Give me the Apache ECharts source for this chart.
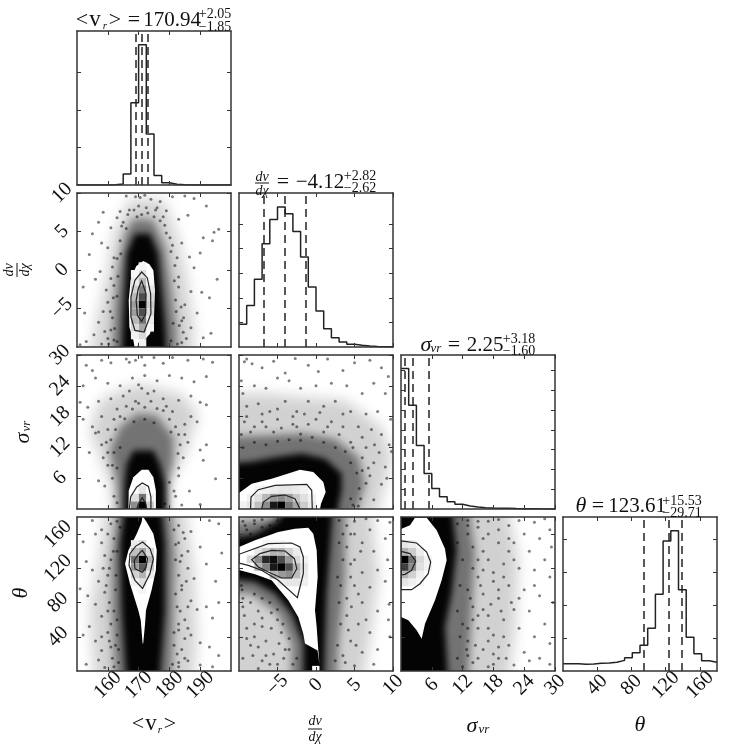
<!DOCTYPE html>
<html>
<head>
<meta charset="utf-8">
<style>
  html, body { margin: 0; padding: 0; background: #fff; }
  #chart { width: 748px; height: 748px; }
</style>
<script src="https://cdn.jsdelivr.net/npm/echarts@6/dist/echarts.min.js"></script>
</head>
<body>
<div id="chart"></div>
<script>
// axis ranges and ticks
const vrRange = [150, 200], vrTicks = [160, 170, 180, 190]
const dvRange = [-10, 10], dvTicks = [-5, 0, 5, 10]
const sigRange = [0, 30], sigTicks = [6, 12, 18, 24, 30]
const thRange = [0, 180], thTicks = [40, 80, 120, 160]

// 1d histograms, counts per bin
const vrHist = [0, 0, 0, 0, 20, 130, 1470, 10940, 18680, 6800, 1250, 310, 90, 20, 0, 0, 0, 0, 0, 0]
const dvHist = [920, 1690, 2750, 4200, 5180, 5690, 5420, 4700, 3660, 2440, 1460, 745, 380, 200, 110, 70, 40, 25, 15, 10]
const sigHist = [17770, 13130, 8040, 4500, 2610, 1560, 930, 590, 380, 250, 170, 125, 85, 85, 50, 40, 30, 20, 15, 10]
const thHist = [445, 445, 405, 425, 465, 485, 525, 645, 810, 1110, 1555, 2585, 4650, 7880, 8500, 4930, 2040, 1050, 625, 525]
const vrHistMax = 20500, dvHistMax = 6260, sigHistMax = 19490, thHistMax = 9333
const vrHistTicks = [5000, 10000, 15000]
const dvHistTicks = [1000, 2000, 3000, 4000, 5000]
const sigHistTicks = [2500, 5000, 7500, 10000, 12500, 15000, 17500]
const thHistTicks = [2000, 4000, 6000, 8000]

// 16/50/84 percentiles
const vrQuant = [169.09, 170.94, 172.99]
const dvQuant = [-6.74, -4.12, -1.3]
const sigQuant = [0.65, 2.25, 5.43]
const thQuant = [93.9, 123.61, 139.14]

// vr - dv panel
const vrDvLight = [[167.2,9.26],[178,9.05],[182.4,4.72],[185.6,-0.9],[187.8,-6.97],[187.8,-10],[152.6,-10],[156.4,-6.5],[159.6,-0.9],[161.8,4.72]]
const vrDvMid = [[168.3,6.67],[174.8,6.45],[178.6,2.99],[180.7,-2.64],[182.4,-8.27],[182.4,-10],[160.7,-10],[162.3,-3.94],[163.4,0.39],[165.6,4.72]]
const vrDvDark = [[168.8,4.72],[173.7,4.72],[176.4,2.12],[177.5,-2.64],[178.6,-6.97],[179.7,-10],[164,-10],[165,-6.1],[165.6,-1.8],[166.1,2.12]]
const vrDvPoints = [[158.5,7.5],[166,9.6],[169,9.5],[170.5,9.4],[172,9.7],[174,9.2],[177,8.9],[181,9.5],[185,9.6],[188,9.3],[157,6.2],[161,5.5],[163,6.8],[179,7.7],[183,6.6],[186,7.1],[192,8.3],[194.5,4.9],[191,4.2],[194,3.8],[196,5.3],[190,2.2],[155,4.7],[158,3.5],[160,2.9],[162,1.6],[154,2],[157.5,-0.2],[152,-2.2],[156,-1.2],[159.5,-2.6],[161,-1.1],[184,3.5],[186.5,1.7],[188,0.3],[183,-0.9],[187,-2.8],[190.5,-2.9],[193,-3.6],[195.5,-1.2],[185,-4.5],[189,-5.6],[184,-6.6],[187,-7.5],[191,-8.8],[193.5,-8.2],[180.5,-9.2],[184,-9.4],[153,-9.3],[155.5,-8.4],[157,-6.8],[158.5,-5.4],[160,-4.2],[161,-7.8],[151,-9.7],[152.5,-5.6],[162,-9.1],[160.3,-9.6],[164,7.6],[176,8.1],[178.5,5.8],[167,7.8],[173,7.4],[170,8.3],[175,6.9],[164.5,5.7],[181,3.2],[161.5,0.4],[182,-3.9],[163,-3.4],[184.5,-8.1],[182.5,1.6]]
const vrDvFringe = [[160,-8.9],[161.5,-6.2],[162,-2],[163,1.5],[164,3.8],[165,6.2],[166.5,7.2],[168.5,7.8],[171,7.2],[172.5,8.1],[175.5,7.8],[177,6.4],[179,4.8],[180.5,2.4],[181.8,0.6],[183,-2.2],[183.8,-4.8],[184.6,-6.2],[185.5,-8.9],[182.6,-9.6],[183.2,-7.2],[159,-8],[158,-9.6],[160.8,-5.4],[161.8,-3.6],[163.3,-0.8],[164.2,2.1],[181.6,-1.4],[180.2,4.2],[178,6.9],[169.5,6.9],[166,5.4],[181.2,-6.9],[182.2,-5.4],[162.2,-7.6],[163,-9.3]]
const vrDvLevel0 = [[171.5,1.17],[173.5,0.74],[174.8,-0.04],[175.3,-2.64],[175,-6.1],[173.7,-8.27],[171.8,-9.13],[171.3,-10],[170.7,-10],[170.1,-9.35],[169.6,-10],[168.7,-10],[168.3,-9.13],[167,-7.4],[166.8,-3.94],[167.4,-1.34],[169.2,0.48]]
const vrDvLevel1 = [[171,-0.26],[172.8,-1],[173.9,-3.07],[174,-5.67],[171.8,-8.05],[168.8,-7.84],[167.5,-6.1],[167.5,-3.5],[168.8,-1.34]]
const vrDvLevel2 = [[171,-1.43],[172.4,-3.07],[172.3,-5.67],[171,-6.67],[169.6,-5.89],[169.2,-3.94],[169.9,-2.42]]
const vrDvCells = [
  [170,0,0.04],[170,-1,0.12],[170,-2,0.28],[170,-3,0.5],[170,-4,0.7],[170,-5,1],[170,-6,0.7],[170,-7,0.55],[170,-8,0.35],[170,-9,0.15],[170,-10,0.05],
  [167.5,-1,0.03],[167.5,-2,0.08],[167.5,-3,0.18],[167.5,-4,0.28],[167.5,-5,0.38],[167.5,-6,0.38],[167.5,-7,0.28],[167.5,-8,0.15],[167.5,-9,0.05],
  [172.5,-2,0.03],[172.5,-3,0.1],[172.5,-4,0.15],[172.5,-5,0.2],[172.5,-6,0.15],[172.5,-7,0.08],[172.5,-8,0.04]
]

// vr - sigma panel
const vrSigLight = [[162.9,0],[160.7,4.9],[154.2,15.3],[157.5,21.2],[169.4,24.4],[183.4,22.5],[189.4,18.6],[185.6,11.4],[180.2,4.9],[179.7,0]]
const vrSigMid = [[164,0],[162.9,4.9],[160.7,11.4],[164,16],[169.4,18.6],[175.9,18.2],[181.3,14],[181.3,9.5],[179.7,4.9],[179.1,0]]
const vrSigDark = [[165,0],[165.4,4.9],[166.1,8.8],[168.3,11.4],[174.8,11.4],[176.9,8.8],[178.6,4.9],[179.1,0]]
const vrSigPoints = [[152,24],[153,28],[155,27],[158,29],[161,28.5],[166,29.2],[167,28.6],[169,29],[171,29.6],[172,28],[175,29.5],[178,28.4],[181,29.5],[186,29],[191,29.2],[194,28.6],[156,25.5],[160,24.5],[164,24],[168,25.5],[170,24.2],[172,26],[176,25],[180,26],[184,25.5],[188,24.8],[192,25.8],[151,20.8],[153.5,19.8],[157,21],[161,21.5],[165,22],[169,21],[173,22.5],[178,21.5],[183,21.2],[187,22],[190,20.8],[192,20.3],[152,17.5],[155,16],[156,14.8],[158,18],[160,15.5],[162,17.5],[185,16.5],[187,18],[189,17],[183,14.5],[186,13],[190,11.5],[192,12.5],[154,11],[158,12.5],[160,11],[161.5,8.5],[164,12],[157,5.5],[159,4.5],[162,2.5],[163,1.2],[183,8],[186.5,3.5],[182,2.5],[184,0.8],[178.5,1],[180,5.2],[190,0.9],[195,5.9],[191,9.5]]
const vrSigFringe = [[160,8.5],[158.5,10],[161,13.5],[162.5,15.5],[164,18],[166,20],[168,19.5],[170,20.6],[172,19.8],[174,21],[176,19.6],[178,19.2],[180,17.5],[182,16],[183.5,12.5],[184.5,10],[183,6.5],[181.5,3.5],[163,8],[161.5,6],[159.5,13],[157,15],[163,19.5],[167,23],[171,23.5],[175,23],[179,20],[181,19],[185,14.5],[182.8,10.8],[162,11],[165.5,17.6],[175,16.8],[172,17.5],[168.5,17],[180.5,15]]
const vrSigLevel0 = [[166.7,0],[166.8,3.6],[168.3,6.2],[171,7.66],[173.2,7.66],[174.8,6.2],[175.6,3.6],[175.6,0]]
const vrSigLevel1 = [[167,0],[167.4,2.34],[169.4,4.3],[171.2,5.06],[173.2,4.4],[174,2.34],[174,0]]
const vrSigLevel2 = [[169.4,0],[169.9,0.9],[171.2,2.2],[172.4,0.9],[172.6,0]]
const vrSigCells = [[170,0,1],[170,1.5,0.55],[170,3,0.1],[167.5,0,0.45],[167.5,1.5,0.12],[172.5,0,0.2],[172.5,1.5,0.06]]

// vr - theta panel
const vrThLight = [[159.6,180],[183.4,180],[187.8,121.6],[188.9,39.8],[186.7,0],[156.4,0],[154.2,70.9],[157.5,137]]
const vrThMid = [[164,180],[179.7,180],[181.8,129.4],[181.3,51.4],[180.2,0],[162.9,0],[161.3,70.9],[161.3,129.4]]
const vrThDark = [[166.7,180],[176.4,180],[178.6,148.8],[178.6,70.9],[176.1,0],[166.7,0],[164.5,70.9],[164,148.8]]
const vrThPoints = [[152,151],[155,176],[156,160],[158,150],[159,135],[161,172],[153,128],[155,118],[157,105],[160,112],[151,96],[153.5,88],[156,78],[159,92],[158,64],[154,52],[152,42],[156,35],[158,24],[160,45],[157,13],[153,8],[159,4],[161,28],[160,70],[161,130],[162,155],[162.5,95],[183,170],[185,155],[187,163],[193,176],[196,172],[190,145],[184,135],[186,120],[188,108],[192,125],[195,105],[197,138],[184,95],[187,82],[189,72],[192,75],[194,62],[196,80],[185,60],[183,48],[187,42],[190,33],[193,28],[196,18],[184,25],[186,12],[190,7],[194,5],[183,10],[182,148],[182.5,75],[163,60],[162.5,30],[163,175],[163.5,10],[183,112],[185,38],[181.5,30]]
const vrThFringe = [[160,160],[161.8,140],[160.5,120],[159.5,100],[160.5,80],[161,55],[160.5,35],[161.5,15],[162,5],[163,140],[162.7,112],[162,70],[163,42],[158.5,120],[158,40],[164,168],[183,150],[183.5,128],[184,100],[183.5,70],[183,55],[182.5,20],[183,5],[181.5,165],[182,130],[182,90],[181.5,45],[185.5,105],[186,75],[185,15],[184.5,162],[186,140],[186,50],[158,165],[181,8],[163.5,25]]
const vrThLevel0 = [[171.5,180],[172.6,174.2],[174.8,160.5],[175.9,141],[175.6,117.7],[174.2,94.3],[172.4,70.9],[172.1,55.3],[171.5,32],[171.3,32],[170.7,59.2],[169.9,70.9],[167.2,102],[165.6,125.5],[166.7,141],[169.4,160.5],[171,174.2],[171.2,180]]
const vrThLevel1 = [[171.3,150.8],[173.7,143],[174.8,131.3],[173.7,113.8],[171.3,96.6],[168.8,106],[166.9,123.5],[167.2,137.2],[169,145.7]]
const vrThLevel2 = [[171.2,141],[172.9,131.3],[172.4,120.8],[171.2,115.3],[168.8,119.6],[168.6,129.4],[169.9,136.4]]
const vrThCells = [
  [170,126,1],[170,117,0.65],[170,135,0.35],[170,144,0.12],[170,108,0.3],[170,99,0.12],[170,90,0.04],
  [167.5,126,0.55],[167.5,117,0.4],[167.5,135,0.25],[167.5,108,0.18],[167.5,144,0.08],[167.5,99,0.06],
  [172.5,126,0.3],[172.5,117,0.2],[172.5,135,0.15],[172.5,108,0.08]
]

// dv - sigma panel
const dvSigLight = [[-10,22.5],[-6.2,22.5],[-1.86,21.8],[3.77,21.2],[8.53,16],[9.83,10.1],[8.96,4.94],[6.8,0],[-10,0]]
const dvSigMid = [[-10,14],[-6.2,14.35],[-1.86,14.7],[2.47,13.7],[5.5,10.1],[6.36,4.94],[3.77,0],[-10,0]]
const dvSigDark = [[-10,0],[-10,8.5],[-8.35,9.2],[-5.3,10.1],[-1.86,10.8],[1.2,9.8],[3.33,6.9],[3.33,3.64],[1.8,0]]
const dvSigPoints = [[-9.3,28.7],[-9,29.2],[-8.3,28.3],[-7,27.5],[-5.5,28.8],[-4,26.5],[-2.7,29.3],[-1,28],[0.3,26.8],[1.5,29.2],[3.5,27],[5,28.5],[7,29],[8.5,27.5],[9.4,25.8],[-9.7,25],[-9.5,22.5],[-8,24],[-6.5,23.5],[-3.5,25],[-5,25.5],[-2,23.5],[0,24],[2,24.5],[4,24],[6,22.5],[7.5,24.5],[9,22.5],[-9,20],[-7.5,20.5],[-6,19],[-4,21],[-2.5,19],[-1,21],[1,20],[2.5,21],[4.5,19],[6.5,18.5],[8,19],[9.7,17.5],[-9.3,17],[-7,17],[-5,17.5],[-3,16.5],[0,17.5],[2,17],[3.5,16],[5.5,16],[7.2,15.5],[8.5,14.5],[9.5,12.5],[9.8,11.2],[8.2,11],[7.5,9],[9,8.2],[6.5,12],[7,6.5],[8.5,4.8],[9.2,6],[5.8,2],[7.5,1.8],[6,7.5],[4.8,0.8],[-5.5,15],[-2,14.6],[1,15],[-8.5,15],[4.5,13]]
const dvSigFringe = [[-9.5,12],[-8,13],[-6.5,12.5],[-5,13.2],[-3.5,13.5],[-2,13.4],[-0.5,14],[1,13],[2.5,12],[3.8,11.2],[4.5,9],[5.3,7],[5.6,4],[4.5,2],[-9,18],[-8,16],[-6.5,16],[-4.5,15.8],[-2.5,16],[-1,16.5],[1.5,16],[3,14.5],[4.8,12],[6,10],[6.8,8],[6.5,5],[5.5,0.6],[-9.7,14.5],[-7,18.5],[-5,19.5],[-1.5,18.5],[3.5,18.5],[6,14],[7.6,12.5],[-3,18],[0.5,18.8]]
const dvSigLevel0 = [[-10,3.12],[-8.35,4.94],[-5.76,5.9],[-3.6,6.9],[-2.08,7.66],[-0.35,7.2],[0.95,5.26],[1.26,3.3],[0.65,1.04],[0.52,0],[-10,0]]
const dvSigLevel1 = [[-8.5,0],[-8.44,2.34],[-7.5,3.76],[-5.3,4.6],[-1.2,4.8],[-0.56,3.64],[-0.48,0]]
const dvSigLevel2 = [[-7.06,0],[-6.84,1.36],[-5.76,2.47],[-4.03,2.73],[-2.73,2],[-2.08,0]]
const dvSigCells = [
  [-10,0,0.05],[-9,0,0.1],[-8,0,0.25],[-7,0,0.45],[-6,0,0.9],[-5,0,1],[-4,0,0.55],[-3,0,0.35],[-2,0,0.2],[-1,0,0.08],
  [-9,1.5,0.05],[-8,1.5,0.12],[-7,1.5,0.28],[-6,1.5,0.4],[-5,1.5,0.45],[-4,1.5,0.38],[-3,1.5,0.22],[-2,1.5,0.12],[-1,1.5,0.05],
  [-8,3,0.04],[-7,3,0.06],[-6,3,0.08],[-5,3,0.1],[-4,3,0.1],[-3,3,0.08],[-2,3,0.05]
]

// dv - theta panel
const dvThLight = [[-10,180],[6.8,180],[8.1,110],[7.23,51.4],[5.5,0],[-7.06,0],[-10,24]]
const dvThMid = [[-10,168.3],[-6.2,178],[3.77,180],[3.77,110],[2.9,32],[2.47,0],[-3.16,0],[-3.16,32],[-4.9,67],[-8.35,90.4],[-10,94.3]]
const dvThDark = [[-10,148.8],[-7.92,160.5],[-4.9,176],[-1.86,180],[2.47,180],[1.82,141],[1.39,90.4],[1.17,32],[0.95,0],[-1.65,0],[-1.65,32],[-3.16,67],[-5.32,90.4],[-7.92,104],[-10,111.8]]
const dvThPoints = [[-9.5,175],[-8,172],[-7,177],[-6,170],[-9,165],[-8.5,160],[-7,168],[-5,176],[3,176],[4,170],[5,175],[6.5,178],[8,176],[9.6,174],[3.5,160],[5,160],[7,165],[9,155],[4,145],[6,150],[7.5,140],[9.3,130],[4.5,125],[6,115],[8,118],[5,100],[7,98],[9,105],[4,85],[6,80],[8,70],[9.5,78],[4,65],[5.5,55],[7,45],[9.4,60],[9.6,40],[4.5,35],[6,22],[8,25],[3.5,18],[5,6],[7.5,8],[-9.5,85],[-8,90],[-9.3,65],[-7.5,70],[-6,80],[-9,50],[-7,52],[-5,60],[-4.5,45],[-8.5,30],[-6.5,35],[-4,25],[-9.5,15],[-7,12],[-5.5,20],[-3,8],[-3.5,38],[-9.7,100],[-5,72],[-8,40],[-6,8],[2.8,110]]
const dvThFringe = [[-9.5,75],[-8.5,80],[-7,62],[-8,55],[-9,38],[-7.5,28],[-5.8,50],[-6.5,18],[-8.2,18],[-4.8,32],[-4.2,15],[-3.5,25],[-2.5,15],[-5,8],[-7.5,3],[-9.6,95],[-7,85],[-5.8,68],[-4.3,55],[3,150],[3.5,130],[3.2,100],[3,80],[3.2,55],[2.8,30],[2.5,12],[4.5,160],[5,130],[4.5,110],[4.6,75],[4.2,48],[3.8,10],[5.8,140],[5.5,90],[5.2,30],[6.5,60],[-8,176],[-3,178],[-9.2,170]]
const dvThLevel0 = [[-10,145],[-7.92,152.7],[-4.9,162.5],[-2.73,166.4],[-1,167.5],[-0.35,160.5],[0.09,141],[0.22,110],[-0.13,71],[0.09,51.4],[0.3,24.2],[0.45,8],[0.2,24],[-1.43,32],[-1.65,43.6],[-2.3,63],[-3.6,82.6],[-5.76,106],[-7.92,113],[-10,118]]
const dvThLevel1 = [[-10,136.4],[-6.2,148.8],[-3.16,149.6],[-2.08,145],[-1.65,133.3],[-1.65,113.8],[-2.42,85.7],[-4.9,106],[-7.06,117.7],[-8.8,123.5],[-10,126.2]]
const dvThLevel2 = [[-8.35,130.1],[-7.27,137.2],[-5.76,141],[-4.03,140.3],[-2.8,131.3],[-2.5,119.6],[-3.16,108.7],[-4.46,108.7],[-6.2,115.7],[-7.49,121.6]]
const dvThCells = [
  [-9,126,0.15],[-8,126,0.45],[-7,126,0.85],[-6,126,0.95],[-5,126,0.7],[-4,126,0.4],[-3,126,0.15],[-2,126,0.05],
  [-8,117,0.3],[-7,117,0.5],[-6,117,0.9],[-5,117,1],[-4,117,0.7],[-3,117,0.3],[-2,117,0.1],
  [-6,108,0.3],[-5,108,0.4],[-4,108,0.45],[-3,108,0.25],[-2,108,0.08],
  [-8,135,0.1],[-7,135,0.2],[-6,135,0.3],[-5,135,0.3],[-4,135,0.18],[-3,135,0.08],
  [-5,99,0.08],[-4,99,0.1],[-3,99,0.1],[-2,99,0.06],
  [-7,144,0.04],[-6,144,0.04],[-5,144,0.04]
]
const dvThHole = [[-0.5,0],[0.45,0],[0.45,6],[-0.5,6]]

// sigma - theta panel
const sigThLight = [[0,180],[19.6,180],[22.9,129.4],[22.2,51.4],[20.3,0],[0,0]]
const sigThMid = [[0,180],[12.47,180],[14.4,137],[13.77,71],[12.8,0],[0,0]]
const sigThDark = [[0,180],[9.2,180],[10.84,141],[9.87,90.4],[8.57,51.4],[9.55,0],[0,0]]
const sigThPoints = [[11,172],[13,176],[15,168],[17,175],[19,177],[21,170],[23,176],[26,174],[28,178],[29,165],[24,160],[27,155],[22,150],[25,140],[28,130],[29.3,145],[19,150],[16,155],[14,145],[17,130],[20,125],[23,120],[26,118],[29,110],[15,110],[18,105],[21,100],[24,95],[27,88],[29.6,80],[16,90],[19,85],[22,72],[25,70],[28,55],[14,75],[17,65],[20,60],[23,50],[26,40],[29,32],[15,50],[18,42],[21,30],[24,22],[27,15],[29,8],[13,35],[16,25],[19,15],[22,7],[14,10],[17,5],[12,55],[13,95],[15,130],[18,20],[20,40],[25,12],[23,85],[26,100],[21,140],[16,72],[13,18]]
const sigThFringe = [[11,150],[12,130],[11.5,100],[11,70],[11.5,40],[11,15],[13,160],[14,120],[13.5,85],[13,50],[12.8,25],[15,175],[16,140],[15.5,100],[15,65],[14.5,30],[17,160],[18,115],[17.5,78],[17,35],[19,165],[20,110],[19.5,70],[19,28],[21,155],[22,130],[21.5,80],[20.5,15],[12,5],[15,15],[18,8],[13,170],[17,50],[19,95],[16,118],[14,60]]
const sigThLevel0 = [[0,166],[1.75,170.3],[2.73,179.2],[5,179.2],[6.95,164.4],[8.57,143],[8.9,129.4],[7.92,106],[6.62,82.6],[4.68,55.3],[4.03,37.8],[3.05,47.5],[1.43,59.2],[0,63]]
const sigThLevel1 = [[0,152],[3.05,149.6],[5,139],[5.78,127.4],[5.3,113.8],[3.7,102],[2.08,95],[0,95]]
const sigThLevel2 = [[0,139.9],[1.75,137.2],[2.86,128.6],[2.08,117.7],[0.78,113],[0,112.2]]
const sigThCells = [
  [0,126,1],[0,117,0.75],[0,135,0.3],[0,108,0.3],[0,144,0.1],[0,99,0.1],
  [1.5,126,0.55],[1.5,117,0.45],[1.5,135,0.2],[1.5,108,0.18],[1.5,144,0.07],[1.5,99,0.06],
  [3,126,0.15],[3,117,0.12],[3,135,0.07],[3,108,0.06],[3,99,0.03],
  [4.5,126,0.05],[4.5,117,0.05]
]

const serif = '"Liberation Serif", "DejaVu Serif", serif'
const ink = '#222'
const colLeft = [77, 239, 401, 563]
const rowTop = [31, 193, 355, 517]
const side = 154
const OFFSCREEN = 3000

const option = {
  animation: false,
  backgroundColor: '#fff',
  grid: [],
  xAxis: [],
  yAxis: [],
  series: [],
  graphic: []
}

// a panel has four axes so the frame and the inward ticks show on every side.
// returns the indexes the series need
function addPanel(col, row, xr, xTicks, yr, yTicks, xLabels, yLabels, yMargin) {
  const gridIndex = option.grid.length
  option.grid.push({ left: colLeft[col], top: rowTop[row], width: side, height: side })
  const common = {
    gridIndex, type: 'value', scale: true, z: 10, silent: true,
    splitLine: { show: false },
    axisLine: { show: true, onZero: false, lineStyle: { color: '#333', width: 1.5 } }
  }
  const tick = vals => ({ show: true, inside: true, length: 4, customValues: vals, lineStyle: { color: '#333', width: 1 } })
  const label = (on, margin, vals) => on
    ? { show: true, rotate: 45, align: 'center', verticalAlign: 'middle', margin, customValues: vals,
        color: '#111', fontFamily: serif, fontSize: 20, formatter: v => String(v).replace('-', '\u2212') }
    : { show: false }
  const xIndex = option.xAxis.length
  option.xAxis.push(
    { ...common, position: 'bottom', min: xr[0], max: xr[1], axisTick: tick(xTicks), axisLabel: label(xLabels, 14, xTicks) },
    { ...common, position: 'top', min: xr[0], max: xr[1], axisTick: tick(xTicks), axisLabel: { show: false } }
  )
  const yIndex = option.yAxis.length
  option.yAxis.push(
    { ...common, position: 'left', min: yr[0], max: yr[1], axisTick: tick(yTicks), axisLabel: label(yLabels, yMargin, yTicks) },
    { ...common, position: 'right', min: yr[0], max: yr[1], axisTick: tick(yTicks), axisLabel: { show: false } }
  )
  return { xAxisIndex: xIndex, yAxisIndex: yIndex }
}

function polygon(axes, pts, style) {
  option.series.push({
    type: 'custom', ...axes, clip: true, silent: true, data: pts,
    encode: { x: 0, y: 1 },
    renderItem: (params, api) => {
      if (params.dataIndex !== 0) return null
      return { type: 'polygon', shape: { points: pts.map(p => api.coord(p)) }, style }
    }
  })
}

// soft edged cloud: the shape sits off canvas and only its shadow lands in the panel.
// vertices on the frame are pushed outwards so the fade does not start at the frame
function cloud(axes, pts, color, blur) {
  option.series.push({
    type: 'custom', ...axes, clip: true, silent: true, data: pts,
    encode: { x: 0, y: 1 },
    renderItem: (params, api) => {
      if (params.dataIndex !== 0) return null
      const r = params.coordSys
      const points = pts.map(p => {
        const c = api.coord(p)
        let x = c[0], y = c[1]
        if (x < r.x + 1) x -= 40
        if (x > r.x + r.width - 1) x += 40
        if (y < r.y + 1) y -= 40
        if (y > r.y + r.height - 1) y += 40
        return [x - OFFSCREEN, y]
      })
      return {
        type: 'polygon', shape: { points },
        style: { fill: '#000', shadowColor: color, shadowBlur: blur, shadowOffsetX: OFFSCREEN }
      }
    }
  })
}

function cells(axes, list, dx, dy) {
  option.series.push({
    type: 'custom', ...axes, clip: true, silent: true, data: list,
    encode: { x: 0, y: 1 },
    renderItem: (params, api) => {
      const a = api.coord([api.value(0), api.value(1) + dy])
      const b = api.coord([api.value(0) + dx, api.value(1)])
      const g = Math.round(255 * (1 - api.value(2)))
      return { type: 'rect', shape: { x: a[0], y: a[1], width: b[0] - a[0], height: b[1] - a[1] }, style: { fill: `rgb(${g},${g},${g})` } }
    }
  })
}

function density(axes, d) {
  cloud(axes, d.light, 'rgba(0,0,0,0.18)', 14)
  cloud(axes, d.mid, 'rgba(0,0,0,0.45)', 9)
  option.series.push({
    type: 'scatter', ...axes, clip: true, silent: true, data: d.points.concat(d.fringe),
    symbolSize: 3, itemStyle: { color: '#000', opacity: 0.5 }
  })
  cloud(axes, d.dark, 'rgba(0,0,0,0.97)', 6)
  polygon(axes, d.levels[0], { fill: '#fff' })
  cells(axes, d.cells, d.dx, d.dy)
  polygon(axes, d.levels[1], { fill: 'none', stroke: ink, lineWidth: 1.2 })
  polygon(axes, d.levels[2], { fill: 'none', stroke: ink, lineWidth: 1.2 })
}

function hist(axes, range, values, quant) {
  const w = (range[1] - range[0]) / values.length
  const data = values.map((v, i) => [range[0] + i * w, v])
  data.push([range[1], values[values.length - 1]])
  option.series.push({
    type: 'line', ...axes, step: 'end', data, symbol: 'none', silent: true,
    lineStyle: { color: ink, width: 1.5 },
    markLine: {
      silent: true, symbol: 'none', animation: false, label: { show: false },
      lineStyle: { color: ink, type: [8, 5], width: 1.5 },
      data: quant.map(q => ({ xAxis: q }))
    }
  })
}

// diagonal
hist(addPanel(0, 0, vrRange, vrTicks, [0, vrHistMax], vrHistTicks, false, false, 0), vrRange, vrHist, vrQuant)
hist(addPanel(1, 1, dvRange, dvTicks, [0, dvHistMax], dvHistTicks, false, false, 0), dvRange, dvHist, dvQuant)
hist(addPanel(2, 2, sigRange, sigTicks, [0, sigHistMax], sigHistTicks, false, false, 0), sigRange, sigHist, sigQuant)
hist(addPanel(3, 3, thRange, thTicks, [0, thHistMax], thHistTicks, true, false, 0), thRange, thHist, thQuant)

// lower triangle
density(addPanel(0, 1, vrRange, vrTicks, dvRange, dvTicks, false, true, 15), {
  light: vrDvLight, mid: vrDvMid, dark: vrDvDark, points: vrDvPoints, fringe: vrDvFringe,
  levels: [vrDvLevel0, vrDvLevel1, vrDvLevel2], cells: vrDvCells, dx: 2.5, dy: 1
})
density(addPanel(0, 2, vrRange, vrTicks, sigRange, sigTicks, false, true, 17), {
  light: vrSigLight, mid: vrSigMid, dark: vrSigDark, points: vrSigPoints, fringe: vrSigFringe,
  levels: [vrSigLevel0, vrSigLevel1, vrSigLevel2], cells: vrSigCells, dx: 2.5, dy: 1.5
})
density(addPanel(0, 3, vrRange, vrTicks, thRange, thTicks, true, true, 19), {
  light: vrThLight, mid: vrThMid, dark: vrThDark, points: vrThPoints, fringe: vrThFringe,
  levels: [vrThLevel0, vrThLevel1, vrThLevel2], cells: vrThCells, dx: 2.5, dy: 9
})
density(addPanel(1, 2, dvRange, dvTicks, sigRange, sigTicks, false, false, 0), {
  light: dvSigLight, mid: dvSigMid, dark: dvSigDark, points: dvSigPoints, fringe: dvSigFringe,
  levels: [dvSigLevel0, dvSigLevel1, dvSigLevel2], cells: dvSigCells, dx: 1, dy: 1.5
})
const dvThAxes = addPanel(1, 3, dvRange, dvTicks, thRange, thTicks, true, false, 0)
density(dvThAxes, {
  light: dvThLight, mid: dvThMid, dark: dvThDark, points: dvThPoints, fringe: dvThFringe,
  levels: [dvThLevel0, dvThLevel1, dvThLevel2], cells: dvThCells, dx: 1, dy: 9
})
polygon(dvThAxes, dvThHole, { fill: '#fff' })
density(addPanel(2, 3, sigRange, sigTicks, thRange, thTicks, true, false, 0), {
  light: sigThLight, mid: sigThMid, dark: sigThDark, points: sigThPoints, fringe: sigThFringe,
  levels: [sigThLevel0, sigThLevel1, sigThLevel2], cells: sigThCells, dx: 1.5, dy: 9
})

// text pieces, all placed by hand around the panels
function txt(x, y, text, size, italic, rotation) {
  option.graphic.push({
    type: 'text', x, y, rotation: rotation || 0, z: 50, silent: true,
    style: {
      text, fill: '#111', align: 'center', verticalAlign: 'middle',
      font: `${italic ? 'italic ' : ''}${size}px ${serif}`
    }
  })
}
function bar(x1, y1, x2, y2) {
  option.graphic.push({ type: 'line', z: 50, silent: true, shape: { x1, y1, x2, y2 }, style: { stroke: '#111', lineWidth: 1 } })
}

// titles
txt(82, 20, '<', 22)
txt(95, 20, 'v', 23)
txt(105, 26, 'r', 11, true)
txt(115, 20, '>', 22)
txt(134, 20, '=', 22)
txt(172, 20, '170.94', 21)
txt(215, 14, '+2.05', 14)
txt(215, 27, '\u22121.85', 14)

txt(262, 177, 'dv', 14, true)
bar(255, 183, 269, 183)
txt(262, 191, 'd\u03c7', 14, true)
txt(283, 182, '=', 22)
txt(320, 182, '\u22124.12', 21)
txt(360, 176, '+2.82', 14)
txt(360, 188, '\u22122.62', 14)

txt(426, 345, '\u03c3', 22, true)
txt(436, 349, 'vr', 13, true)
txt(454, 345, '=', 22)
txt(485, 345, '2.25', 21)
txt(519, 339, '+3.18', 14)
txt(519, 351, '\u22121.60', 14)

txt(581, 506, '\u03b8', 22, true)
txt(598, 506, '=', 22)
txt(637, 506, '123.61', 21)
txt(682, 501, '+15.53', 14)
txt(682, 513, '\u221229.71', 14)

// axis names
txt(138, 724, '<', 22)
txt(151, 724, 'v', 23)
txt(160, 730, 'r', 11, true)
txt(170, 724, '>', 22)
txt(315, 721, 'dv', 14, true)
bar(308, 729, 322, 729)
txt(315, 737, 'd\u03c7', 14, true)
txt(472, 726, '\u03c3', 22, true)
txt(484, 730, 'vr', 13, true)
txt(640, 725, '\u03b8', 22, true)

txt(9, 270, 'dv', 14, true, Math.PI / 2)
bar(17, 263, 17, 277)
txt(25, 270, 'd\u03c7', 14, true, Math.PI / 2)
txt(23, 438, '\u03c3', 22, true, Math.PI / 2)
txt(27, 426, 'vr', 13, true, Math.PI / 2)
txt(21, 593, '\u03b8', 22, true, Math.PI / 2)

const chart = echarts.init(document.getElementById('chart'))
chart.setOption(option)
</script>
</body>
</html>
